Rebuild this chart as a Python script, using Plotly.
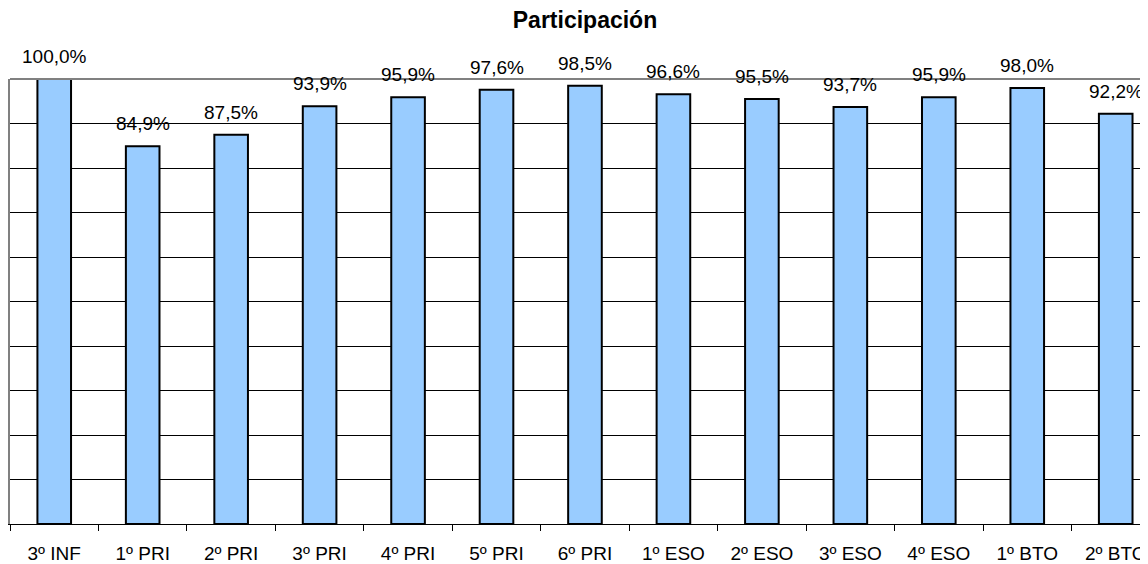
import plotly.graph_objects as go

categories = ["3º INF", "1º PRI", "2º PRI", "3º PRI", "4º PRI", "5º PRI", "6º PRI",
              "1º ESO", "2º ESO", "3º ESO", "4º ESO", "1º BTO", "2º BTO"]
participacion = [100.0, 84.9, 87.5, 93.9, 95.9, 97.6, 98.5, 96.6, 95.5, 93.7, 95.9, 98.0, 92.2]
title_text = "Participación"

FONT = "Liberation Sans, Arial, sans-serif"

# the page body adds an 8px offset; figure is sized to fill the rest of the window
W, H = 1140, 556

yvals = [v / 100 for v in participacion]
labels = [f"{v:.1f}%".replace(".", ",") for v in participacion]

fig = go.Figure()
fig.add_trace(go.Bar(
    x=categories, y=yvals, width=0.38,
    marker=dict(color="#99CCFF", line=dict(color="#000000", width=2)),
    hoverinfo="skip",
))

for c, v, t in zip(categories, yvals, labels):
    fig.add_annotation(x=c, y=v, text=t, showarrow=False, yanchor="bottom",
                       yshift=10, font=dict(family=FONT, size=19, color="#000000"))

fig.add_shape(type="line", xref="paper", yref="paper", x0=0, x1=1, y0=1, y1=1,
              line=dict(color="#808080", width=2), layer="above")

fig.update_layout(
    width=W, height=H,
    margin=dict(l=2, r=0, t=71, b=40),
    paper_bgcolor="white", plot_bgcolor="white",
    showlegend=False,
    title=dict(text="<b>" + title_text + "</b>", xref="container", yref="container",
               x=577 / W, xanchor="center", y=1 - 12 / H, yanchor="middle",
               font=dict(family=FONT, size=23, color="#000000")),
    font=dict(family=FONT, size=19, color="#000000"),
)
fig.update_xaxes(
    type="category", range=[-0.5, 12.365],
    showline=True, linecolor="#000000", linewidth=1,
    ticks="outside", ticklen=6, tickcolor="#000000", tickwidth=1,
    tickson="boundaries", showgrid=False,
    ticklabelstandoff=12, ticklabeloverflow="allow",
    tickfont=dict(family=FONT, size=19, color="#000000"),
)
fig.update_yaxes(
    range=[0, 1], dtick=0.1, showticklabels=False,
    showgrid=True, gridcolor="#000000", gridwidth=1,
    showline=True, linecolor="#808080", linewidth=2,
    zeroline=False, ticks="",
)

fig.write_html("out.html")
